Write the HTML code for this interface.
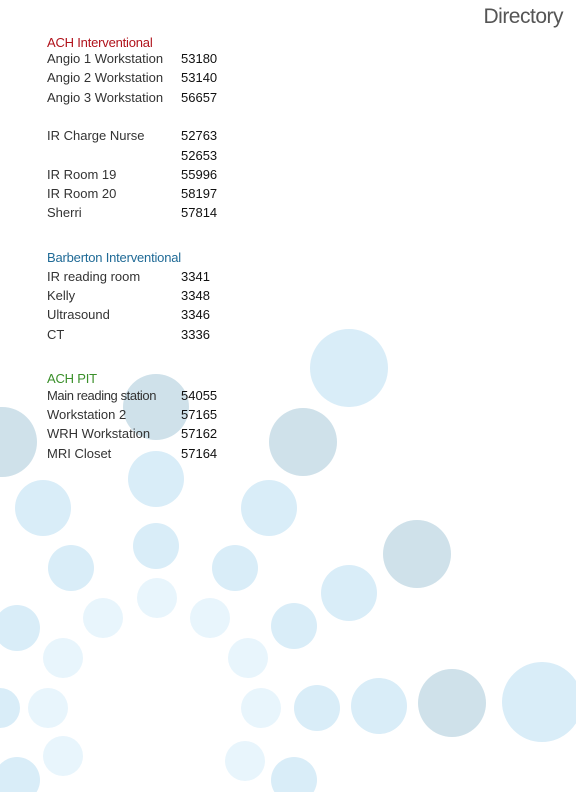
<!DOCTYPE html>
<html><head><meta charset="utf-8"><style>
body{margin:0;width:576px;height:792px;position:relative;overflow:hidden;background:#fff;font-family:"Liberation Sans",sans-serif}
svg{position:absolute;left:0;top:0}
.t{position:absolute;font-size:13px;letter-spacing:0px;color:#333;line-height:16px;white-space:nowrap}
.n{position:absolute;font-size:13px;letter-spacing:0px;color:#111;line-height:16px}
.h{position:absolute;font-size:13px;letter-spacing:-0.2px;line-height:16px}
</style></head><body>
<svg width="576" height="792">
<g fill="#d9edf8">
<circle cx="349" cy="368" r="39"/><circle cx="156" cy="479" r="28"/><circle cx="43" cy="508" r="28"/><circle cx="269" cy="508" r="28"/>
<circle cx="156" cy="546" r="23"/><circle cx="71" cy="568" r="23"/><circle cx="235" cy="568" r="23"/><circle cx="349" cy="593" r="28"/>
<circle cx="294" cy="626" r="23"/><circle cx="17" cy="628" r="23"/><circle cx="317" cy="708" r="23"/><circle cx="379" cy="706" r="28"/>
<circle cx="542" cy="702" r="40"/><circle cx="17" cy="780" r="23"/><circle cx="294" cy="780" r="23"/><circle cx="0" cy="708" r="20"/>
</g>
<g fill="#e8f5fc">
<circle cx="157" cy="598" r="20"/><circle cx="103" cy="618" r="20"/><circle cx="210" cy="618" r="20"/><circle cx="63" cy="658" r="20"/>
<circle cx="248" cy="658" r="20"/><circle cx="48" cy="708" r="20"/><circle cx="261" cy="708" r="20"/><circle cx="63" cy="756" r="20"/><circle cx="245" cy="761" r="20"/>
</g>
<g fill="#cfe1ea">
<circle cx="303" cy="442" r="34"/><circle cx="2" cy="442" r="35"/><circle cx="156" cy="407" r="33"/><circle cx="417" cy="554" r="34"/><circle cx="452" cy="703" r="34"/>
</g>
</svg>
<div style="position:absolute;right:13px;top:5px;font-size:21px;color:#555;letter-spacing:-0.5px">Directory</div>

<div class="h" style="left:47px;top:35px;color:#b0121b">ACH Interventional</div>
<div class="t" style="left:47px;top:51px">Angio 1 Workstation</div><div class="n" style="left:181px;top:51px">53180</div>
<div class="t" style="left:47px;top:70px">Angio 2 Workstation</div><div class="n" style="left:181px;top:70px">53140</div>
<div class="t" style="left:47px;top:90px">Angio 3 Workstation</div><div class="n" style="left:181px;top:90px">56657</div>
<div class="t" style="left:47px;top:128px">IR Charge Nurse</div><div class="n" style="left:181px;top:128px">52763</div>
<div class="n" style="left:181px;top:148px">52653</div>
<div class="t" style="left:47px;top:167px">IR Room 19</div><div class="n" style="left:181px;top:167px">55996</div>
<div class="t" style="left:47px;top:186px">IR Room 20</div><div class="n" style="left:181px;top:186px">58197</div>
<div class="t" style="left:47px;top:205px">Sherri</div><div class="n" style="left:181px;top:205px">57814</div>

<div class="h" style="left:47px;top:250px;color:#1f6a96">Barberton Interventional</div>
<div class="t" style="left:47px;top:269px">IR reading room</div><div class="n" style="left:181px;top:269px">3341</div>
<div class="t" style="left:47px;top:288px">Kelly</div><div class="n" style="left:181px;top:288px">3348</div>
<div class="t" style="left:47px;top:307px">Ultrasound</div><div class="n" style="left:181px;top:307px">3346</div>
<div class="t" style="left:47px;top:327px">CT</div><div class="n" style="left:181px;top:327px">3336</div>

<div class="h" style="left:47px;top:371px;color:#3a8f2a">ACH PIT</div>
<div class="t" style="left:47px;top:388px;letter-spacing:-0.4px">Main reading station</div><div class="n" style="left:181px;top:388px">54055</div>
<div class="t" style="left:47px;top:407px">Workstation 2</div><div class="n" style="left:181px;top:407px">57165</div>
<div class="t" style="left:47px;top:426px">WRH Workstation</div><div class="n" style="left:181px;top:426px">57162</div>
<div class="t" style="left:47px;top:446px">MRI Closet</div><div class="n" style="left:181px;top:446px">57164</div>
</body></html>
